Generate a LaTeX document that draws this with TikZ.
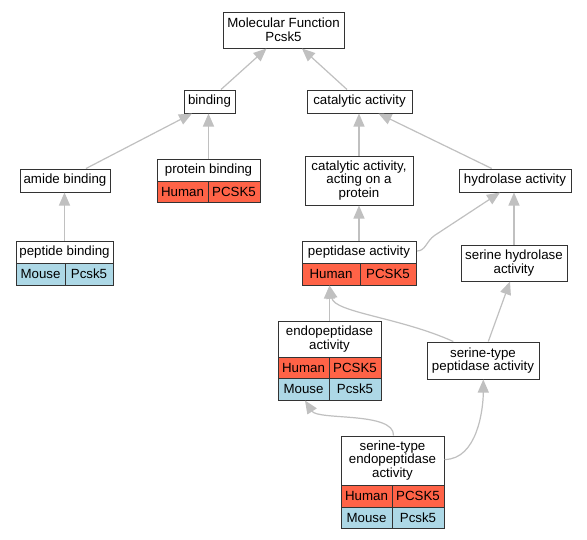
\documentclass[tikz,border=0pt]{standalone}
\usepackage{fontspec}
\setmainfont{Liberation Sans}
\usetikzlibrary{arrows.meta,calc}
\definecolor{edgegray}{HTML}{C0C0C0}
\definecolor{tomato}{HTML}{FF6347}
\definecolor{lightblue}{HTML}{ADD8E6}
\begin{document}
\begin{tikzpicture}[x=1pt,y=-1pt,
  box/.style={draw=black!80, line width=1pt, fill=white, inner sep=0pt,
    font=\fontsize{13.3}{13.6}\selectfont, align=center},
  hum/.style={box, fill=tomato},
  mou/.style={box, fill=lightblue},
  edge/.style={draw=edgegray, line width=1.2pt,
    -{Triangle[length=13pt,width=11pt,fill=edgegray]}}]
\useasboundingbox[fill=white] (0,0) rectangle (587,539);

\node[box, minimum width=121pt, minimum height=36pt] (mf) at (283.5,30) {Molecular Function\\Pcsk5};
\node[box, minimum width=51pt, minimum height=23pt] (bind) at (209.5,101.5) {binding};
\node[box, minimum width=105pt, minimum height=23pt] (cat) at (359.5,101.5) {catalytic activity};
\node[box, minimum width=90pt, minimum height=23pt] (amide) at (65,180.5) {amide binding};
\node[box, minimum width=103pt, minimum height=22pt] (prot) at (208.5,170) {protein binding};
\node[hum, minimum width=51pt, minimum height=21pt] (protH) at (182.5,191.5) {Human};
\node[hum, minimum width=52pt, minimum height=21pt] (protG) at (234,191.5) {PCSK5};
\node[box, minimum width=97pt, minimum height=22pt] (pept) at (64.5,252) {peptide binding};
\node[mou, minimum width=49pt, minimum height=22pt] (peptM) at (40.5,274) {Mouse};
\node[mou, minimum width=48pt, minimum height=22pt] (peptG) at (89,274) {Pcsk5};
\node[box, minimum width=108pt, minimum height=49pt] (act) at (359,180.5) {catalytic activity,\\acting on a\\protein};
\node[box, minimum width=112pt, minimum height=23pt] (hyd) at (515,180.5) {hydrolase activity};
\node[box, minimum width=114pt, minimum height=22pt] (pep) at (359,252) {peptidase activity};
\node[hum, minimum width=58pt, minimum height=22pt] (pepH) at (331,274) {Human};
\node[hum, minimum width=56pt, minimum height=22pt] (pepG) at (388,274) {PCSK5};
\node[box, minimum width=106pt, minimum height=36pt] (shyd) at (514,263) {serine hydrolase\\activity};
\node[box, minimum width=103pt, minimum height=36pt] (endo) at (329.5,339) {endopeptidase\\activity};
\node[hum, minimum width=51pt, minimum height=21pt] (endoH) at (303.5,367.5) {Human};
\node[hum, minimum width=52pt, minimum height=21pt] (endoHG) at (355,367.5) {PCSK5};
\node[mou, minimum width=51pt, minimum height=22pt] (endoM) at (303.5,389) {Mouse};
\node[mou, minimum width=52pt, minimum height=22pt] (endoMG) at (355,389) {Pcsk5};
\node[box, minimum width=112pt, minimum height=37pt] (stp) at (483,360.5) {serine-type\\peptidase activity};
\node[box, minimum width=103pt, minimum height=49pt] (ste) at (392.5,460.5) {serine-type\\endopeptidase\\activity};
\node[hum, minimum width=51pt, minimum height=22pt] (steH) at (366.5,496) {Human};
\node[hum, minimum width=52pt, minimum height=22pt] (steHG) at (418,496) {PCSK5};
\node[mou, minimum width=51pt, minimum height=21pt] (steM) at (366.5,517.5) {Mouse};
\node[mou, minimum width=52pt, minimum height=21pt] (steMG) at (418,517.5) {Pcsk5};

\draw[edge] ($(bind.north)+(11.5,0)$) -- ($(mf.south)+(-17,0)$);
\draw[edge] ($(cat.north)+(-12.5,0)$) -- ($(mf.south)+(18.5,0)$);
\draw[edge] ($(amide.north)+(21,0)$) -- ($(bind.south)+(-17.5,0)$);
\draw[edge] (prot.north) -- (prot.north |- bind.south);
\draw[edge] (pept.north) -- (pept.north |- amide.south);
\draw[edge] (act.north) -- (act.north |- cat.south);
\draw[edge] ($(hyd.north)+(-23.3,0)$) -- ($(cat.south)+(19,0)$);
\draw[edge] (pep.north) -- (pep.north |- act.south);
\draw[edge] ($(pep.east)+(0.5,-1)$) .. controls ($(pep.east)+(9,-1)$) and ($(pep.east)+(10,-11)$) .. ($(pep.east)+(18,-16.5)$) -- ($(hyd.south)+(-15,0)$);
\draw[edge] (shyd.north) -- (shyd.north |- hyd.south);
\draw[edge] (endo.north) -- (endo.north |- pepH.south);
\draw[edge] ($(stp.north)+(-29.7,0)$) .. controls +(-53,-24) and +(5,27) .. (endo.north |- pepH.south);
\draw[edge] ($(stp.north)+(5.3,0)$) -- ($(shyd.south)+(-4,0)$);
\draw[edge] ($(ste.north)+(1,0)$) .. controls +(1,-24) and +(13,20) .. ($(endoM.south)+(1.5,0)$);
\draw[edge] ($(ste.east)+(0,-1)$) .. controls +(33,0) and +(0,29) .. ($(stp.south)+(0.3,0)$);
\end{tikzpicture}
\end{document}
